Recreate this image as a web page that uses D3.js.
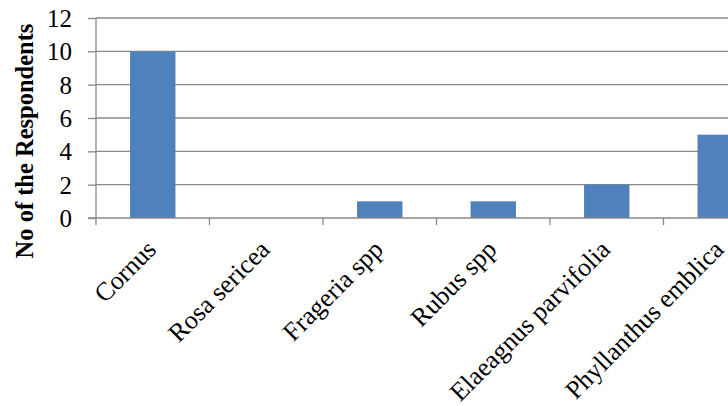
<!DOCTYPE html>
<html>
<head>
<meta charset="utf-8">
<script src="https://cdn.jsdelivr.net/npm/d3@7"></script>
<style>
  html, body { margin: 0; padding: 0; background: #fff; overflow: hidden; }
  svg { display: block; }
</style>
</head>
<body>
<svg id="chart" width="728" height="406"></svg>
<script>
// Wild fruit species and number of respondents naming each
const species = ["Cornus", "Rosa sericea", "Frageria spp", "Rubus spp", "Elaeagnus parvifolia", "Phyllanthus emblica"];
const respondents = [10, 0, 1, 1, 2, 5];
const yTicks = [0, 2, 4, 6, 8, 10, 12];
const yTitle = "No of the Respondents";

(function () {
const svg = d3.select("#chart");
const plotLeft = 96, plotTop = 18, plotBottom = 218;
const plotRight = 777; // plot area continues past the visible edge

const x = d3.scaleBand()
  .domain(species)
  .range([plotLeft, plotRight])
  .paddingInner(0.6)
  .paddingOuter(0.3);

const y = d3.scaleLinear().domain([0, 12]).range([plotBottom, plotTop]);

const grey = "#888888";
const font = "'Liberation Serif', 'Times New Roman', serif";

// horizontal gridlines
svg.append("g")
  .selectAll("line")
  .data(yTicks.filter(d => d > 0))
  .join("line")
  .attr("x1", plotLeft).attr("x2", plotRight)
  .attr("y1", d => y(d)).attr("y2", d => y(d))
  .attr("stroke", grey).attr("stroke-width", 1.3);

// bars
svg.append("g")
  .selectAll("rect")
  .data(species.map((s, i) => ({ s, v: respondents[i] })))
  .join("rect")
  .attr("x", d => x(d.s))
  .attr("width", x.bandwidth())
  .attr("y", d => y(d.v))
  .attr("height", d => y(0) - y(d.v))
  .attr("fill", "#4f81bd");

// y axis
const yAxis = svg.append("g")
  .attr("transform", `translate(${plotLeft},0)`)
  .call(d3.axisLeft(y).tickValues(yTicks).tickSize(8).tickPadding(16));
yAxis.select(".domain").attr("stroke", grey).attr("stroke-width", 1.3)
  .attr("d", `M0,${plotTop}V${plotBottom}`);
yAxis.selectAll(".tick line").attr("stroke", grey).attr("stroke-width", 1.3);
yAxis.selectAll(".tick text")
  .attr("font-family", font).attr("font-size", 25).attr("fill", "#000")
  .attr("dy", "0.34em");

// x axis with ticks at band boundaries
const step = x.step();
const boundaries = d3.range(species.length + 1).map(i => x(species[0]) - x.paddingOuter() * step + i * step);
const xg = svg.append("g");
xg.append("line")
  .attr("x1", plotLeft - 8).attr("x2", plotRight)
  .attr("y1", plotBottom).attr("y2", plotBottom)
  .attr("stroke", grey).attr("stroke-width", 1.3);
xg.selectAll("line.tk")
  .data(boundaries)
  .join("line")
  .attr("class", "tk")
  .attr("x1", d => d).attr("x2", d => d)
  .attr("y1", plotBottom).attr("y2", plotBottom + 7)
  .attr("stroke", grey).attr("stroke-width", 1.3);

// category labels, rotated
xg.selectAll("text")
  .data(species)
  .join("text")
  .attr("transform", d => `translate(${x(d) + x.bandwidth() / 2 + 5},${plotBottom + 33}) rotate(-45)`)
  .attr("text-anchor", "end")
  .attr("font-family", font)
  .attr("font-size", 26)
  .attr("fill", "#000")
  .text(d => d);

// y axis title
svg.append("text")
  .attr("transform", `translate(33,141) rotate(-90)`)
  .attr("text-anchor", "middle")
  .attr("font-family", font)
  .attr("font-size", 24.5)
  .attr("font-weight", "bold")
  .attr("fill", "#000")
  .text(yTitle);
})();
</script>
</body>
</html>
